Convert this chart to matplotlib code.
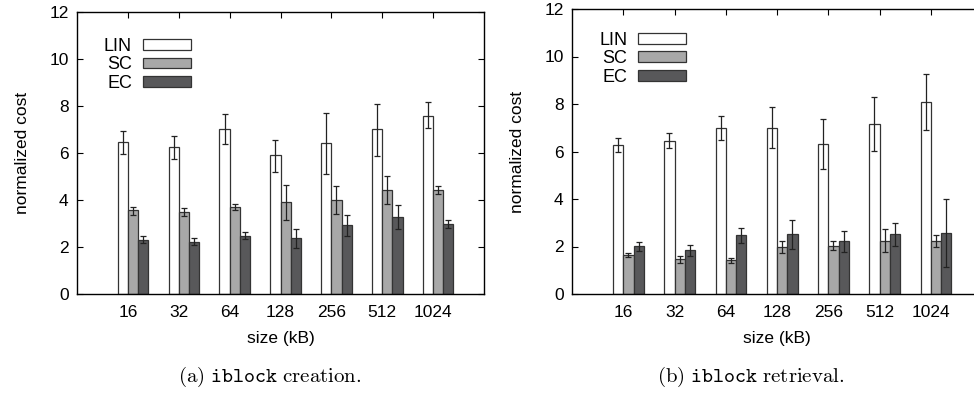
import numpy as np
import matplotlib.pyplot as plt

plt.rcParams['font.family'] = ['Liberation Sans', 'DejaVu Sans']
plt.rcParams['mathtext.fontset'] = 'cm'

sizes = ['16', '32', '64', '128', '256', '512', '1024']
series = ['LIN', 'SC', 'EC']
colors = ['#ffffff', '#a8a8a8', '#58585a']

# (a) iblock creation: mean, upper and lower error-bar ends
create_mean = {
    'LIN': [6.46, 6.26, 7.01, 5.91, 6.42, 7.01, 7.59],
    'SC': [3.57, 3.47, 3.71, 3.90, 3.99, 4.43, 4.43],
    'EC': [2.31, 2.22, 2.48, 2.37, 2.92, 3.29, 2.97],
}
create_hi = {
    'LIN': [6.94, 6.74, 7.65, 6.57, 7.72, 8.10, 8.16],
    'SC': [3.72, 3.65, 3.85, 4.62, 4.58, 5.03, 4.60],
    'EC': [2.45, 2.37, 2.62, 2.75, 3.37, 3.77, 3.16],
}
create_lo = {
    'LIN': [5.95, 5.75, 6.37, 5.21, 5.10, 5.88, 7.05],
    'SC': [3.37, 3.30, 3.58, 3.14, 3.40, 3.84, 4.25],
    'EC': [2.17, 2.07, 2.34, 1.95, 2.46, 2.76, 2.80],
}

# (b) iblock retrieval
retr_mean = {
    'LIN': [6.26, 6.45, 7.01, 7.01, 6.31, 7.16, 8.09],
    'SC': [1.64, 1.46, 1.43, 1.98, 2.04, 2.25, 2.22],
    'EC': [2.01, 1.84, 2.47, 2.51, 2.22, 2.51, 2.56],
}
retr_hi = {
    'LIN': [6.56, 6.76, 7.49, 7.87, 7.35, 8.31, 9.28],
    'SC': [1.71, 1.60, 1.53, 2.22, 2.22, 2.75, 2.49],
    'EC': [2.19, 2.08, 2.79, 3.12, 2.67, 2.98, 3.99],
}
retr_lo = {
    'LIN': [5.96, 6.14, 6.50, 6.14, 5.25, 6.01, 6.90],
    'SC': [1.56, 1.32, 1.32, 1.74, 1.85, 1.76, 1.97],
    'EC': [1.81, 1.60, 2.13, 1.91, 1.76, 2.04, 1.12],
}


def draw(ax, mean, hi, lo, leg_y):
    """ gnuplot-style clustered bars with error bars """
    x = np.arange(1, len(sizes) + 1)
    w = 0.2
    for k, s in enumerate(series):
        pos = x + (k - 0.5)*w
        m = np.array(mean[s])
        err = [m - np.array(lo[s]), np.array(hi[s]) - m]
        ax.bar(pos, m, w, color=colors[k], edgecolor='#333333',
               linewidth=0.9, label=s, zorder=2)
        ax.errorbar(pos, m, yerr=err, fmt='none', ecolor='#222222',
                    elinewidth=0.9, capsize=2.3, capthick=0.9, zorder=3)
    ax.set_xlim(0, 8)
    ax.set_ylim(0, 12)
    ax.set_xticks(x)
    ax.set_xticklabels(sizes)
    ax.set_yticks(range(0, 13, 2))
    ax.tick_params(direction='in', top=True, right=True, labelsize=12.5,
                   length=4, width=0.8)
    ax.tick_params(axis='x', pad=8)
    ax.tick_params(axis='y', pad=6)
    for sp in ax.spines.values():
        sp.set_linewidth(1.0)
    ax.set_xlabel('size (kB)', fontsize=12.5, labelpad=8)
    ax.set_ylabel('normalized cost', fontsize=12.5, labelpad=14)
    ax.legend(loc='upper left', bbox_to_anchor=(0.066, leg_y), frameon=False,
              markerfirst=False, fontsize=13, handlelength=2.65,
              handleheight=0.55, handletextpad=0.6, labelspacing=0.08,
              borderpad=0, borderaxespad=0)


fig = plt.figure(figsize=(9.74, 3.98), dpi=100)
ax1 = fig.add_axes([77/974, 104/398, 407/974, 282/398])
ax2 = fig.add_axes([572/974, 104/398, 410/974, 285/398])

draw(ax1, create_mean, create_hi, create_lo, 0.908)
draw(ax2, retr_mean, retr_hi, retr_lo, 0.92)

fig.text(270/974, 1 - 377/398, r'$\mathrm{(a)}\ \mathtt{iblock}\ \mathrm{creation.}$',
         ha='center', va='center', fontsize=15)
fig.text(751/974, 1 - 377/398, r'$\mathrm{(b)}\ \mathtt{iblock}\ \mathrm{retrieval.}$',
         ha='center', va='center', fontsize=15)

fig.savefig('out.png', dpi=100)
